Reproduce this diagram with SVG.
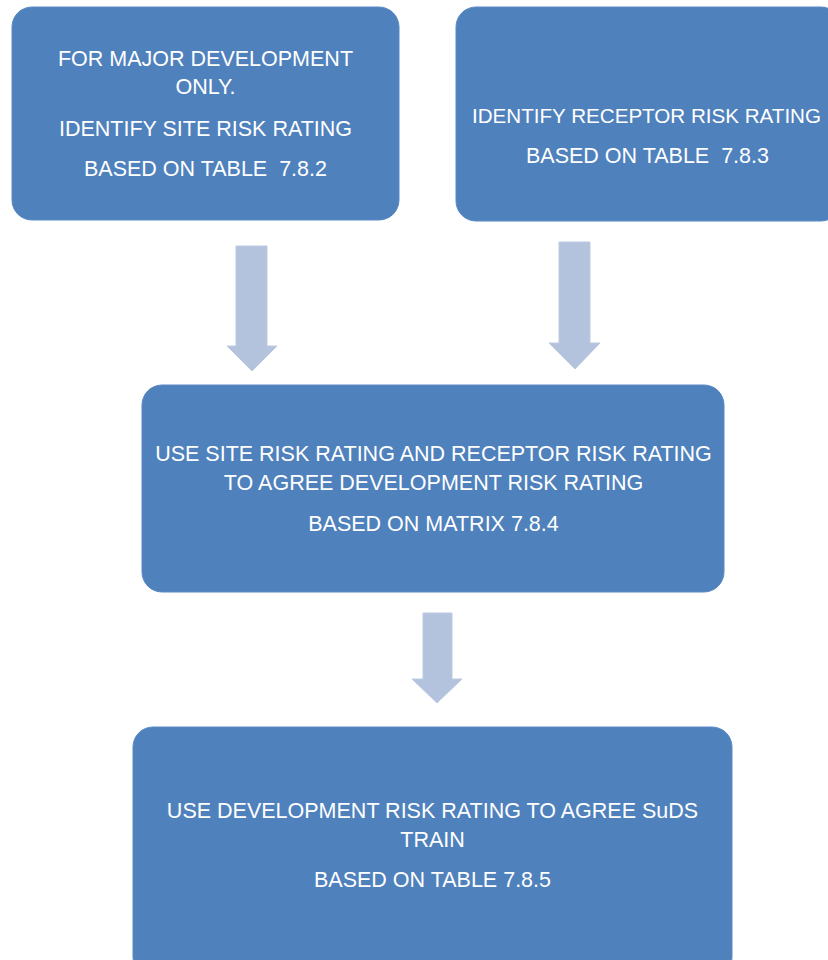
<svg xmlns="http://www.w3.org/2000/svg" width="828" height="960" viewBox="0 0 828 960">
<style>
.box{fill:#4F81BD;stroke:#5A8AC4;stroke-width:1}
.arrow{fill:#B3C3DD;stroke:#BCCBE3;stroke-width:1}
.t{font-family:"Liberation Sans",Arial,sans-serif;font-size:21.5px;fill:#FFFFFF;text-anchor:middle;white-space:pre}
</style>
<rect width="828" height="960" fill="#FFFFFF"/>
<g id="connectors">
<polygon class="arrow" points="236,246 267,246 267,346 277,346 252,371 227,346 236,346"/>
<polygon class="arrow" points="559,242 590,242 590,343 600,343 575,369 549,343 559,343"/>
<polygon class="arrow" points="423,613 452,613 452,679 462,679 437,703 412,679 423,679"/>
</g>
<g id="node-site">
<rect class="box" x="12" y="7" width="387" height="213" rx="20" ry="20"/>
<text class="t" x="205.5" y="66">FOR MAJOR DEVELOPMENT</text>
<text class="t" x="205.5" y="94">ONLY.</text>
<text class="t" x="205.5" y="136">IDENTIFY SITE RISK RATING</text>
<text class="t" x="205.5" y="176" xml:space="preserve">BASED ON TABLE  7.8.2</text>
</g>
<g id="node-receptor">
<rect class="box" x="456" y="7" width="385" height="214" rx="20" ry="20"/>
<text class="t" x="646.5" y="123" style="font-size:20.6px">IDENTIFY RECEPTOR RISK RATING</text>
<text class="t" x="647.5" y="163" xml:space="preserve">BASED ON TABLE  7.8.3</text>
</g>
<g id="node-development">
<rect class="box" x="142" y="385" width="582" height="207" rx="20" ry="20"/>
<text class="t" x="433.5" y="461">USE SITE RISK RATING AND RECEPTOR RISK RATING</text>
<text class="t" x="433.5" y="490">TO AGREE DEVELOPMENT RISK RATING</text>
<text class="t" x="433.5" y="531">BASED ON MATRIX 7.8.4</text>
</g>
<g id="node-suds">
<rect class="box" x="133" y="727" width="599" height="250" rx="20" ry="20"/>
<text class="t" x="432.5" y="818">USE DEVELOPMENT RISK RATING TO AGREE SuDS</text>
<text class="t" x="432.5" y="847">TRAIN</text>
<text class="t" x="432.5" y="887">BASED ON TABLE 7.8.5</text>
</g>
</svg>
